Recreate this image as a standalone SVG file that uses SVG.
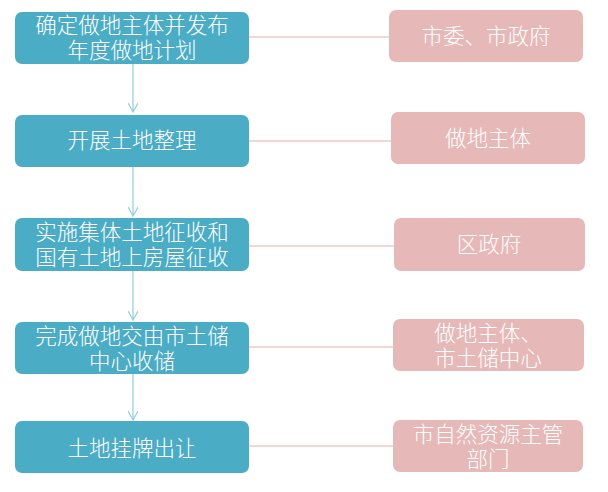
<svg xmlns="http://www.w3.org/2000/svg" width="608" height="492" viewBox="0 0 608 492">
<style>
.lb{fill:#4BACC6}
.rb{fill:#E6B9B8}
.t{font-family:"Noto Sans CJK SC","Noto Sans",sans-serif;font-size:21.5px;font-weight:300;fill:#FFFFFF;text-anchor:middle}
.h{stroke:#E6B0B0;stroke-width:1.2;fill:none}
.v{stroke:#92CDDC;stroke-width:1.2;fill:none}
</style>
<defs>
<marker id="ar" markerWidth="12" markerHeight="10" refX="10" refY="5" orient="auto" markerUnits="userSpaceOnUse">
<path d="M1,0 L10,5 L1,10" fill="none" stroke="#92CDDC" stroke-width="1.2"/>
</marker>
</defs>
<rect width="608" height="492" fill="#FFFFFF"/>
<g id="connectors">
<line class="v" x1="133" y1="64" x2="133" y2="112" marker-end="url(#ar)"/>
<line class="v" x1="133" y1="167" x2="133" y2="216" marker-end="url(#ar)"/>
<line class="v" x1="133" y1="271" x2="133" y2="320" marker-end="url(#ar)"/>
<line class="v" x1="133" y1="374" x2="133" y2="420" marker-end="url(#ar)"/>
<line class="h" x1="249" y1="37" x2="389" y2="37"/>
<line class="h" x1="249" y1="141" x2="391" y2="141"/>
<line class="h" x1="249" y1="246" x2="394" y2="246"/>
<line class="h" x1="249" y1="347" x2="393" y2="347"/>
<line class="h" x1="249" y1="446" x2="393" y2="446"/>
</g>
<g id="step1"><rect class="lb" x="15" y="12" width="234" height="52" rx="7"/>
<text class="t"><tspan x="132" y="33">确定做地主体并发布</tspan><tspan x="132" y="58">年度做地计划</tspan></text></g>
<g id="step2"><rect class="lb" x="15" y="115" width="234" height="52" rx="7"/>
<text class="t" x="132" y="148">开展土地整理</text></g>
<g id="step3"><rect class="lb" x="15" y="218" width="234" height="53" rx="7"/>
<text class="t"><tspan x="132" y="240">实施集体土地征收和</tspan><tspan x="132" y="265">国有土地上房屋征收</tspan></text></g>
<g id="step4"><rect class="lb" x="15" y="322" width="234" height="52" rx="7"/>
<text class="t"><tspan x="132" y="344">完成做地交由市土储</tspan><tspan x="132" y="369">中心收储</tspan></text></g>
<g id="step5"><rect class="lb" x="15" y="421" width="234" height="52" rx="7"/>
<text class="t" x="132" y="456">土地挂牌出让</text></g>
<g id="actor1"><rect class="rb" x="389" y="10" width="194" height="52" rx="7"/>
<text class="t" x="486" y="44">市委、市政府</text></g>
<g id="actor2"><rect class="rb" x="391" y="112" width="194" height="52" rx="7"/>
<text class="t" x="488" y="146">做地主体</text></g>
<g id="actor3"><rect class="rb" x="394" y="218" width="191" height="53" rx="7"/>
<text class="t" x="489" y="252">区政府</text></g>
<g id="actor4"><rect class="rb" x="393" y="319" width="191" height="52" rx="7"/>
<text class="t"><tspan x="488" y="341">做地主体、</tspan><tspan x="488" y="366">市土储中心</tspan></text></g>
<g id="actor5"><rect class="rb" x="393" y="420" width="190" height="52" rx="7"/>
<text class="t"><tspan x="488" y="442">市自然资源主管</tspan><tspan x="488" y="467">部门</tspan></text></g>
</svg>
